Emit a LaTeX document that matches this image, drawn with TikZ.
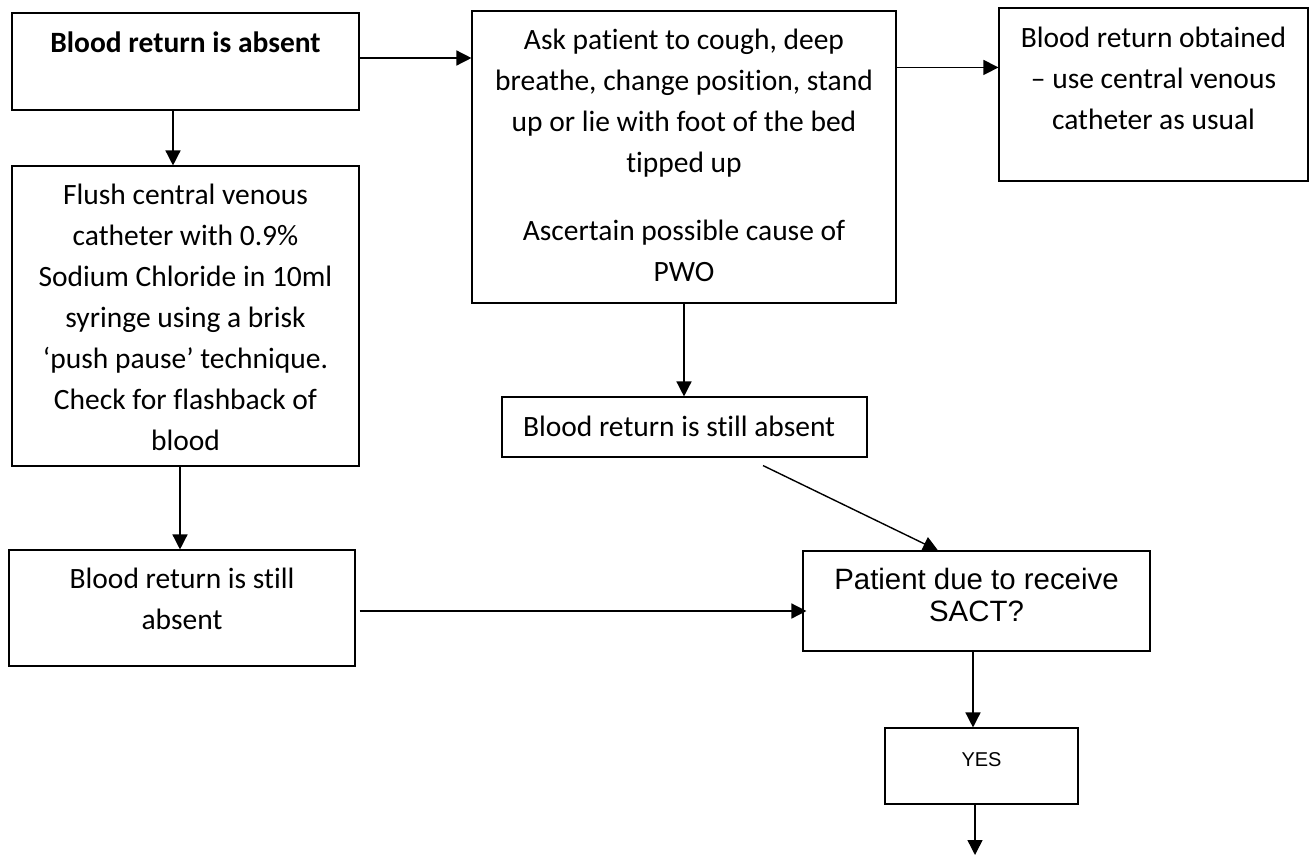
\documentclass[tikz,border=0pt]{standalone}
\usepackage{fontspec}
\setmainfont{Carlito}[Ligatures=NoCommon]
\newfontfamily\arialf{Liberation Sans}
\usetikzlibrary{arrows.meta,calc}
\newcommand{\boxtext}[4]{\parbox[c][#2][t]{#1}{\centering\rule{0pt}{#3}#4}}
\tikzset{
  box/.style={draw, line width=1.1pt, inner sep=0pt, font=\fontsize{29.5}{41}\selectfont},
  arr/.style={-{Triangle[length=15pt,width=15pt]}, line width=1.4pt},
}
\begin{document}
\begin{tikzpicture}[x=1pt,y=-1pt]
\useasboundingbox (0,0) rectangle (1311,855);
% boxes: x1,y1,x2,y2
\node[box] (b1) at (185.5,61.5) {\boxtext{347pt}{97pt}{39pt}{\bfseries Blood return is absent}};
\node[box] (b2) at (185.5,316) {\boxtext{347pt}{300pt}{38pt}{Flush central venous\\catheter with 0.9\%\\Sodium Chloride in 10ml\\syringe using a brisk\\‘push pause’ technique.\\Check for flashback of\\blood}};
\node[box] (b3) at (182,608) {\boxtext{346pt}{116pt}{38pt}{Blood return is still\\absent}};
\node[box] (b4) at (684,157) {\boxtext{424pt}{292pt}{38pt}{Ask patient to cough, deep\\breathe, change position, stand\\up or lie with foot of the bed\\tipped up\\[27pt]Ascertain possible cause of\\PWO}};
\node[box] (b5) at (1153.5,94.5) {\boxtext{309pt}{173pt}{39pt}{Blood return obtained\\– use central venous\\catheter as usual}};
\node[box] (b6) at (684.5,427) {\boxtext{365pt}{60pt}{39pt}{\raggedright\hspace*{21pt}Blood return is still absent}};
\node[box] (b7) at (976.5,601) {\boxtext{347pt}{100pt}{38pt}{\arialf\fontsize{29.4}{32}\selectfont Patient due to receive\\SACT?}};
\node[box] (b8) at (981.5,766) {\boxtext{193pt}{76pt}{38pt}{\arialf\fontsize{20}{24}\selectfont YES}};
\coordinate (end) at (975,855);
% connectors
\draw[arr] ([yshift=3.5pt]b1.east) -- ([yshift=3.5pt]b1.east -| b4.west);
\draw[arr] ([xshift=-12.5pt]b1.south) -- ([xshift=-12.5pt]b1.south |- b2.north);
\draw[arr] ([xshift=-5.5pt]b2.south) -- ([xshift=-5.5pt]b2.south |- b3.north);
\draw[arr] ([yshift=-57pt]b4.north east) -- ([yshift=-57pt]b4.north east -| b5.west);
\draw[arr] (b4.south) -- (b4.south |- b6.north);
\draw[arr] ([xshift=78.5pt,yshift=-8pt]b6.south) -- ([xshift=-38.5pt]b7.north);
\draw[arr] ([xshift=4pt,yshift=-3pt]b3.east) -- ([xshift=4pt,yshift=-3pt]b3.east -| b7.west);
\draw[arr] ([xshift=-3.5pt]b7.south) -- ([xshift=-3.5pt]b7.south |- b8.north);
\draw[arr] (end |- b8.south) -- (end);
\end{tikzpicture}
\end{document}
